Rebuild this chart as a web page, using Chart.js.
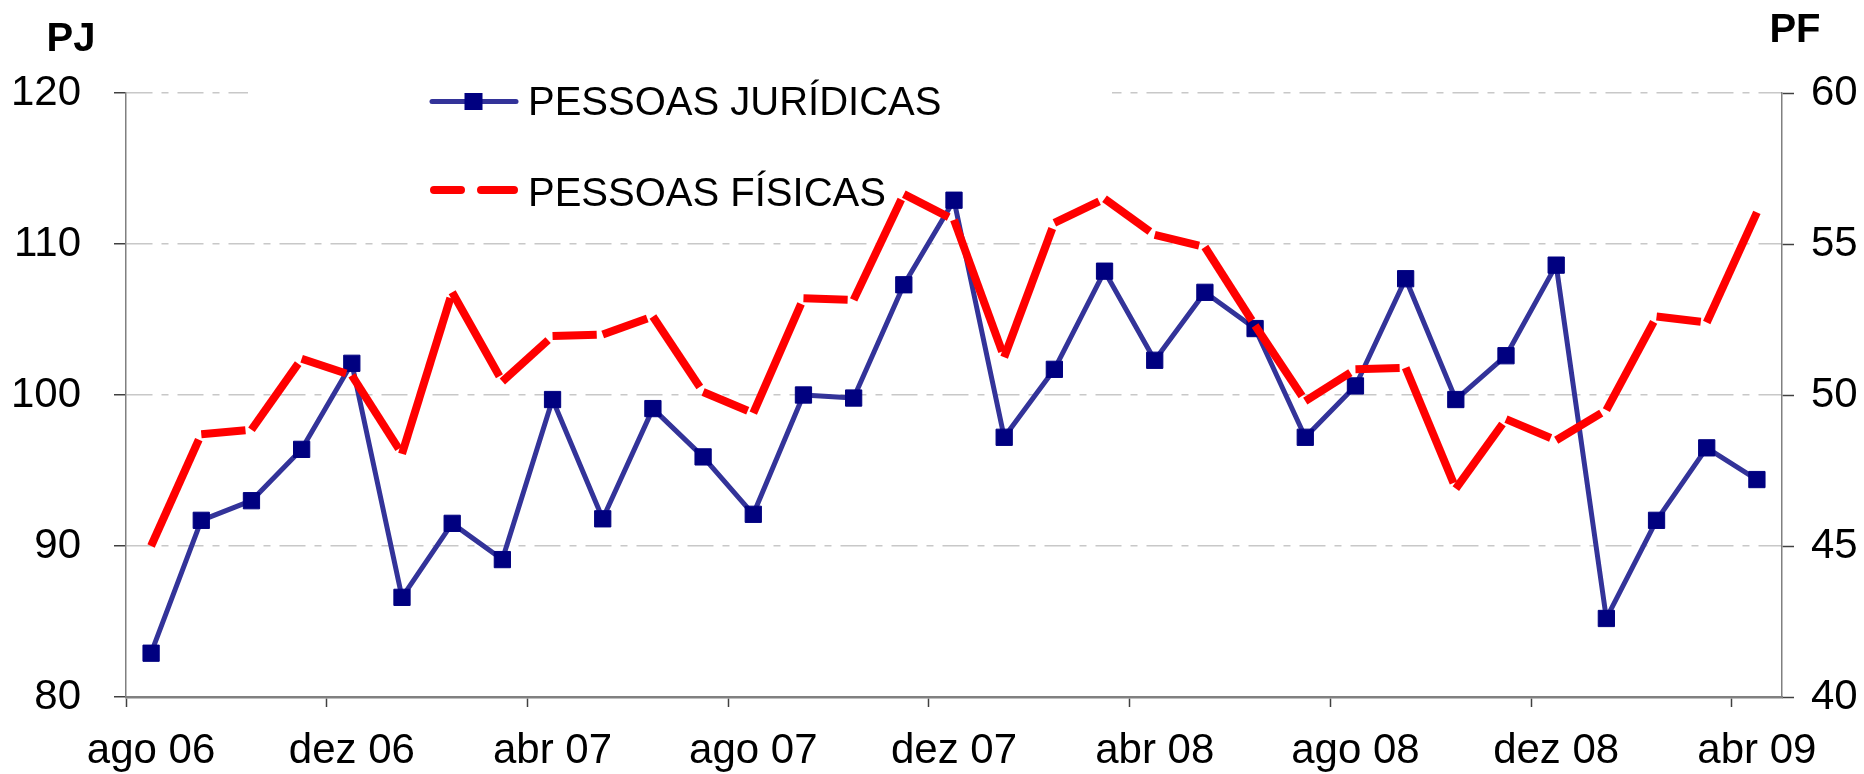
<!DOCTYPE html>
<html>
<head>
<meta charset="utf-8">
<script src="https://cdn.jsdelivr.net/npm/chart.js@4.4.1/dist/chart.umd.min.js"></script>
<style>
    html, body { margin: 0; padding: 0; background: #fff; }
    canvas { display: block; }
</style>
</head>
<body>
<canvas id="myChart" width="1864" height="774"></canvas>
<script>
//----------------------------- Data -----------------------------------
const months = [
    'ago 06', 'set 06', 'out 06', 'nov 06', 'dez 06',
    'jan 07', 'fev 07', 'mar 07', 'abr 07', 'mai 07', 'jun 07', 'jul 07',
    'ago 07', 'set 07', 'out 07', 'nov 07', 'dez 07',
    'jan 08', 'fev 08', 'mar 08', 'abr 08', 'mai 08', 'jun 08', 'jul 08',
    'ago 08', 'set 08', 'out 08', 'nov 08', 'dez 08',
    'jan 09', 'fev 09', 'mar 09', 'abr 09'
];
// pessoas jurídicas (left axis, PJ)
const pjValues = [
    82.9, 91.7, 93.0, 96.4, 102.1,
    86.6, 91.5, 89.1, 99.7, 91.8, 99.1, 95.9,
    92.1, 100.0, 99.8, 107.3, 112.9,
    97.2, 101.7, 108.2, 102.3, 106.8, 104.4, 97.2,
    100.6, 107.7, 99.7, 102.6, 108.6,
    85.2, 91.7, 96.5, 94.4
];
// pessoas físicas (right axis, PF)
const pfValues = [
    45.0, 48.7, 48.85, 51.2, 50.65,
    48.05, 53.4, 50.45, 51.95, 52.0, 52.6, 50.1,
    49.4, 53.2, 53.15, 56.65, 55.8,
    51.25, 55.7, 56.5, 55.3, 54.9, 52.3, 49.8,
    50.85, 50.9, 46.9, 49.2, 48.5,
    49.5, 52.6, 52.4, 56.05
];
const pjLabel = 'PESSOAS JURÍDICAS';
const pfLabel = 'PESSOAS FÍSICAS';
const pjAxis = { min: 80, max: 120, step: 10, title: 'PJ' };
const pfAxis = { min: 40, max: 60, step: 5, title: 'PF' };

//----------------------------- Style -----------------------------------
const fontFamily = '"Liberation Sans", Arial, Helvetica, sans-serif';
const blueLine = '#333399';
const blueMarker = '#000080';
const redLine = '#ff0000';
const axisColor = '#808080';
const tickColor = '#404040';
const gridColor = '#c8c8c8';

Chart.defaults.font.family = fontFamily;
Chart.defaults.font.size = 42;
Chart.defaults.color = '#000';

// excel-like long dash: each segment drawn separately with a small gap at its end
function pfSegmentDash(ctx) {
    const dx = ctx.p1.x - ctx.p0.x;
    const dy = ctx.p1.y - ctx.p0.y;
    const len = Math.sqrt(dx * dx + dy * dy);
    if (ctx.p1DataIndex === pfValues.length - 1) {
        return [len + 50, 50];
    }
    return [Math.max(len - 6, 1), 60];
}

const legendAndTitles = {
    id: 'legendAndTitles',
    beforeDatasetsDraw(chart) {
        const ctx = chart.ctx;
        const area = chart.chartArea;
        const x0 = area.left + 304;
        ctx.save();
        // legend box hides the top grid line
        ctx.fillStyle = '#fff';
        ctx.fillRect(area.left + 122, area.top - 28, 864, 155);

        // PJ sample
        let y = area.top + 8.5;
        ctx.lineCap = 'round';
        ctx.strokeStyle = blueLine;
        ctx.lineWidth = 5;
        ctx.beginPath();
        ctx.moveTo(x0 + 2, y);
        ctx.lineTo(x0 + 86, y);
        ctx.stroke();
        ctx.fillStyle = blueMarker;
        ctx.fillRect(x0 + 34.5, y - 8.5, 18, 17);

        // PF sample
        y = area.top + 97;
        ctx.strokeStyle = redLine;
        ctx.lineWidth = 8;
        ctx.beginPath();
        ctx.moveTo(x0 + 4, y);
        ctx.lineTo(x0 + 31, y);
        ctx.moveTo(x0 + 51, y);
        ctx.lineTo(x0 + 84, y);
        ctx.stroke();

        ctx.fillStyle = '#000';
        ctx.font = '40px ' + fontFamily;
        ctx.textBaseline = 'alphabetic';
        ctx.textAlign = 'left';
        ctx.fillText(pjLabel, x0 + 98, area.top + 22);
        ctx.fillText(pfLabel, x0 + 98, area.top + 113);
        ctx.restore();
    },
    afterDraw(chart) {
        const ctx = chart.ctx;
        const area = chart.chartArea;
        ctx.save();
        ctx.fillStyle = '#000';
        ctx.font = 'bold 40px ' + fontFamily;
        ctx.textAlign = 'center';
        ctx.textBaseline = 'middle';
        ctx.fillText(pjAxis.title, area.left - 55, area.top - 53);
        ctx.fillText(pfAxis.title, area.right + 13, area.top - 62);
        ctx.restore();
    }
};

const ctx = document.getElementById('myChart');
const config = {
    type: 'line',
    data: {
        labels: months,
        datasets: [
            {
                label: pjLabel,
                data: pjValues,
                yAxisID: 'y',
                order: 2,
                fill: false,
                borderColor: blueLine,
                borderWidth: 5,
                borderJoinStyle: 'round',
                tension: 0,
                pointStyle: 'rect',
                pointRadius: 11.5,
                pointBorderWidth: 1,
                pointBackgroundColor: blueMarker,
                pointBorderColor: blueMarker
            },
            {
                label: pfLabel,
                data: pfValues,
                yAxisID: 'y1',
                order: 1,
                fill: false,
                borderColor: redLine,
                borderWidth: 8,
                borderCapStyle: 'butt',
                borderJoinStyle: 'miter',
                tension: 0,
                pointRadius: 0,
                segment: {
                    borderDash: pfSegmentDash
                }
            }
        ]
    },
    options: {
        responsive: false,
        animation: false,
        layout: {
            padding: { top: 93, left: 0, right: 0, bottom: 0 }
        },
        plugins: {
            legend: { display: false },
            tooltip: { enabled: false }
        },
        scales: {
            x: {
                offset: true,
                afterFit: (scale) => { scale.height = 77; },
                border: { color: axisColor, width: 2.5 },
                grid: {
                    offset: true,
                    drawOnChartArea: false,
                    tickLength: 10,
                    tickWidth: 1.5,
                    tickColor: (c) => (c.index % 4 === 0 ? tickColor : 'rgba(0,0,0,0)')
                },
                ticks: {
                    autoSkip: false,
                    maxRotation: 0,
                    minRotation: 0,
                    padding: 19,
                    callback: function (value, index) {
                        return index % 4 === 0 ? this.getLabelForValue(value) : '';
                    }
                }
            },
            y: {
                position: 'left',
                min: pjAxis.min,
                max: pjAxis.max,
                afterFit: (scale) => { scale.width = 126; },
                border: { color: axisColor, width: 1.5, dash: [26, 9, 7, 9] },
                grid: {
                    color: gridColor,
                    lineWidth: 1.5,
                    tickLength: 12,
                    tickColor: tickColor,
                    tickWidth: 1.5,
                    tickBorderDash: []
                },
                ticks: {
                    stepSize: pjAxis.step,
                    padding: 33
                }
            },
            y1: {
                position: 'right',
                min: pfAxis.min,
                max: pfAxis.max,
                afterFit: (scale) => { scale.width = 82; },
                border: { color: axisColor, width: 1.5 },
                grid: {
                    drawOnChartArea: false,
                    tickLength: 12,
                    tickColor: tickColor,
                    tickWidth: 1.5
                },
                ticks: {
                    stepSize: pfAxis.step,
                    padding: 17
                }
            }
        }
    },
    plugins: [legendAndTitles]
};
window.myChartInstance = new Chart(ctx, config);
</script>
</body>
</html>
